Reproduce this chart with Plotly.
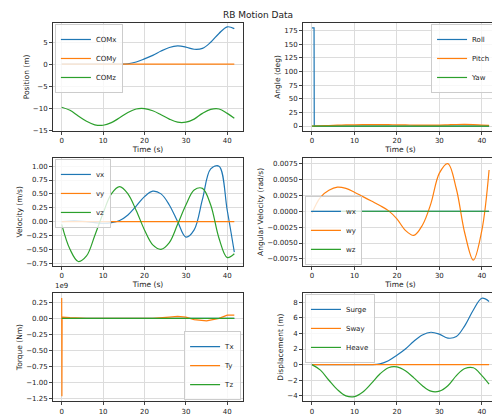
import plotly.graph_objects as go

t = [0, 2, 4, 6, 8, 10, 12, 14, 16, 18, 20, 22, 24, 26, 28, 30, 32, 34, 36, 38, 40, 41.7]
com_x = [0, 0, 0, 0, 0, 0, 0, 0, 0.1, 0.5, 1.2, 2.0, 3.0, 3.8, 4.15, 3.9, 3.4, 3.6, 5.0, 7.0, 8.5, 8.1]
com_y = [0]*22
com_z = [-9.8, -10.5, -11.8, -13.0, -13.8, -13.9, -13.3, -12.2, -11.0, -10.2, -10.1, -10.6, -11.5, -12.5, -13.2, -13.2, -12.5, -11.2, -10.3, -10.2, -11.2, -12.3]
heave = [0, -0.7, -2.0, -3.2, -4.0, -4.1, -3.5, -2.4, -1.2, -0.4, -0.3, -0.8, -1.7, -2.7, -3.4, -3.4, -2.7, -1.4, -0.5, -0.4, -1.4, -2.5]

t_roll = [0, 0.5, 0.55, 41.7]
roll = [180, 180, 0, 0]
pitch = [0, 0.5, 1.0, 1.5, 2.0, 2.3, 2.5, 2.6, 2.6, 2.5, 2.3, 2.0, 1.8, 1.6, 1.6, 1.8, 2.3, 2.8, 3.0, 2.6, 1.8, 1.2]
yaw = [0]*22

vx = [0, 0.01, 0.01, 0.0, -0.02, -0.03, -0.02, 0.02, 0.12, 0.28, 0.45, 0.55, 0.5, 0.3, 0.0, -0.28, -0.15, 0.4, 0.95, 1.0, 0.2, -0.55]
vy = [0]*22
vz = [-0.05, -0.5, -0.72, -0.62, -0.25, 0.15, 0.5, 0.63, 0.5, 0.2, -0.15, -0.42, -0.5, -0.38, -0.05, 0.3, 0.57, 0.6, 0.3, -0.3, -0.65, -0.58]

wx = [0]*22
wy = [-0.0003, 0.0022, 0.0033, 0.0038, 0.0036, 0.003, 0.0023, 0.0016, 0.0009, 0.0001, -0.0012, -0.003, -0.0038, -0.0022, 0.0012, 0.006, 0.0075, 0.0035, -0.0035, -0.0077, -0.003, 0.0065]
wz = [0]*22

t_tq = [0, 0.05, 0.1, 0.2, 2, 6, 10, 14, 18, 22, 26, 28, 30, 32, 35, 38, 40, 41.7]
tx = [0]*18
ty_1e9 = [0.32, -1.22, 0.02, 0.02, 0.01, 0.0, 0.0, 0.0, -0.005, 0.0, 0.02, 0.03, 0.02, -0.02, -0.04, 0.0, 0.05, 0.05]
tz = [0]*18

C = ['#1f77b4', '#ff7f0e', '#2ca02c']
fig = go.Figure()
xd = [[0.09, 0.47], [0.59, 0.98]]
yd = [[0.703, 0.964], [0.377, 0.638], [0.05, 0.312]]

panels = [
    (0, 0, [(t, com_x, 'COMx'), (t, com_y, 'COMy'), (t, com_z, 'COMz')], 'Position (m)', 'spline', dict(x=0.01, y=0.99, xanchor='left', yanchor='top')),
    (1, 0, [(t_roll, roll, 'Roll'), (t, pitch, 'Pitch'), (t, yaw, 'Yaw')], 'Angle (deg)', 'spline', dict(x=0.99, y=0.99, xanchor='right', yanchor='top')),
    (0, 1, [(t, vx, 'vx'), (t, vy, 'vy'), (t, vz, 'vz')], 'Velocity (m/s)', 'spline', dict(x=0.01, y=0.99, xanchor='left', yanchor='top')),
    (1, 1, [(t, wx, 'wx'), (t, wy, 'wy'), (t, wz, 'wz')], 'Angular Velocity (rad/s)', 'spline', dict(x=0.01, y=0.01, xanchor='left', yanchor='bottom')),
    (0, 2, [(t_tq, tx, 'Tx'), (t_tq, ty_1e9, 'Ty'), (t_tq, tz, 'Tz')], 'Torque (Nm)', 'linear', dict(x=0.99, y=0.01, xanchor='right', yanchor='bottom')),
    (1, 2, [(t, com_x, 'Surge'), (t, com_y, 'Sway'), (t, heave, 'Heave')], 'Displacement (m)', 'spline', dict(x=0.01, y=0.99, xanchor='left', yanchor='top')),
]
lay = {}
for i, (c, r, series, ylab, shape, lpos) in enumerate(panels):
    n = i + 1
    sfx = '' if n == 1 else str(n)
    leg = 'legend' + sfx
    for j, (xx, yy, name) in enumerate(series):
        sh = 'linear' if name == 'Roll' else shape
        fig.add_trace(go.Scatter(x=xx, y=yy, name=name, mode='lines', line=dict(color=C[j], width=1.2, shape=sh),
                                 xaxis='x' + sfx, yaxis='y' + sfx, legend=leg))
    ax = dict(showline=True, linecolor='#333', mirror=True, showgrid=True, gridcolor='#dcdcdc', zeroline=False,
              ticks='outside', ticklen=3, tickfont=dict(size=7), title_font=dict(size=7.5), title_standoff=2,
              automargin=False)
    lay['xaxis' + sfx] = dict(ax, domain=xd[c], anchor='y' + sfx, title_text='Time (s)', range=[-2.1, 43.8], dtick=10)
    lay['yaxis' + sfx] = dict(ax, domain=yd[r], anchor='x' + sfx, title_text=ylab)
    lx = xd[c][0] + lpos['x'] * (xd[c][1] - xd[c][0])
    ly = yd[r][0] + lpos['y'] * (yd[r][1] - yd[r][0])
    lay[leg] = dict(lpos, bgcolor='rgba(255,255,255,0.8)', bordercolor='#ccc', borderwidth=1,
                    font=dict(size=7), xref='paper', yref='paper', tracegroupgap=0, itemwidth=30)
    lay[leg].update(x=lx, y=ly)

lay['yaxis']['range'] = [-15.2, 9.4]
lay['yaxis2'].update(range=[-9, 189], dtick=25)
lay['yaxis3'].update(range=[-0.8, 1.15], dtick=0.25, tickformat='.2f')
lay['yaxis4'].update(range=[-0.0086, 0.0084], dtick=0.0025, tickformat='.4f')
lay['yaxis5'].update(range=[-1.3, 0.4], dtick=0.25, tickformat='.2f')
lay['yaxis6'].update(range=[-4.7, 9.2], dtick=2)

fig.update_layout(**lay, width=500, height=414, margin=dict(l=0, r=0, t=0, b=0), plot_bgcolor='white',
                  paper_bgcolor='white', font=dict(family='DejaVu Sans', color='#222'),
                  title=dict(text='RB Motion Data', x=0.5, y=0.99, xanchor='center', yanchor='top', font=dict(size=9)),
                  annotations=[dict(text='1e9', x=0.09, y=0.314, xref='paper', yref='paper', xanchor='left',
                                    yanchor='bottom', showarrow=False, font=dict(size=7))])
fig.write_html('out.html')
